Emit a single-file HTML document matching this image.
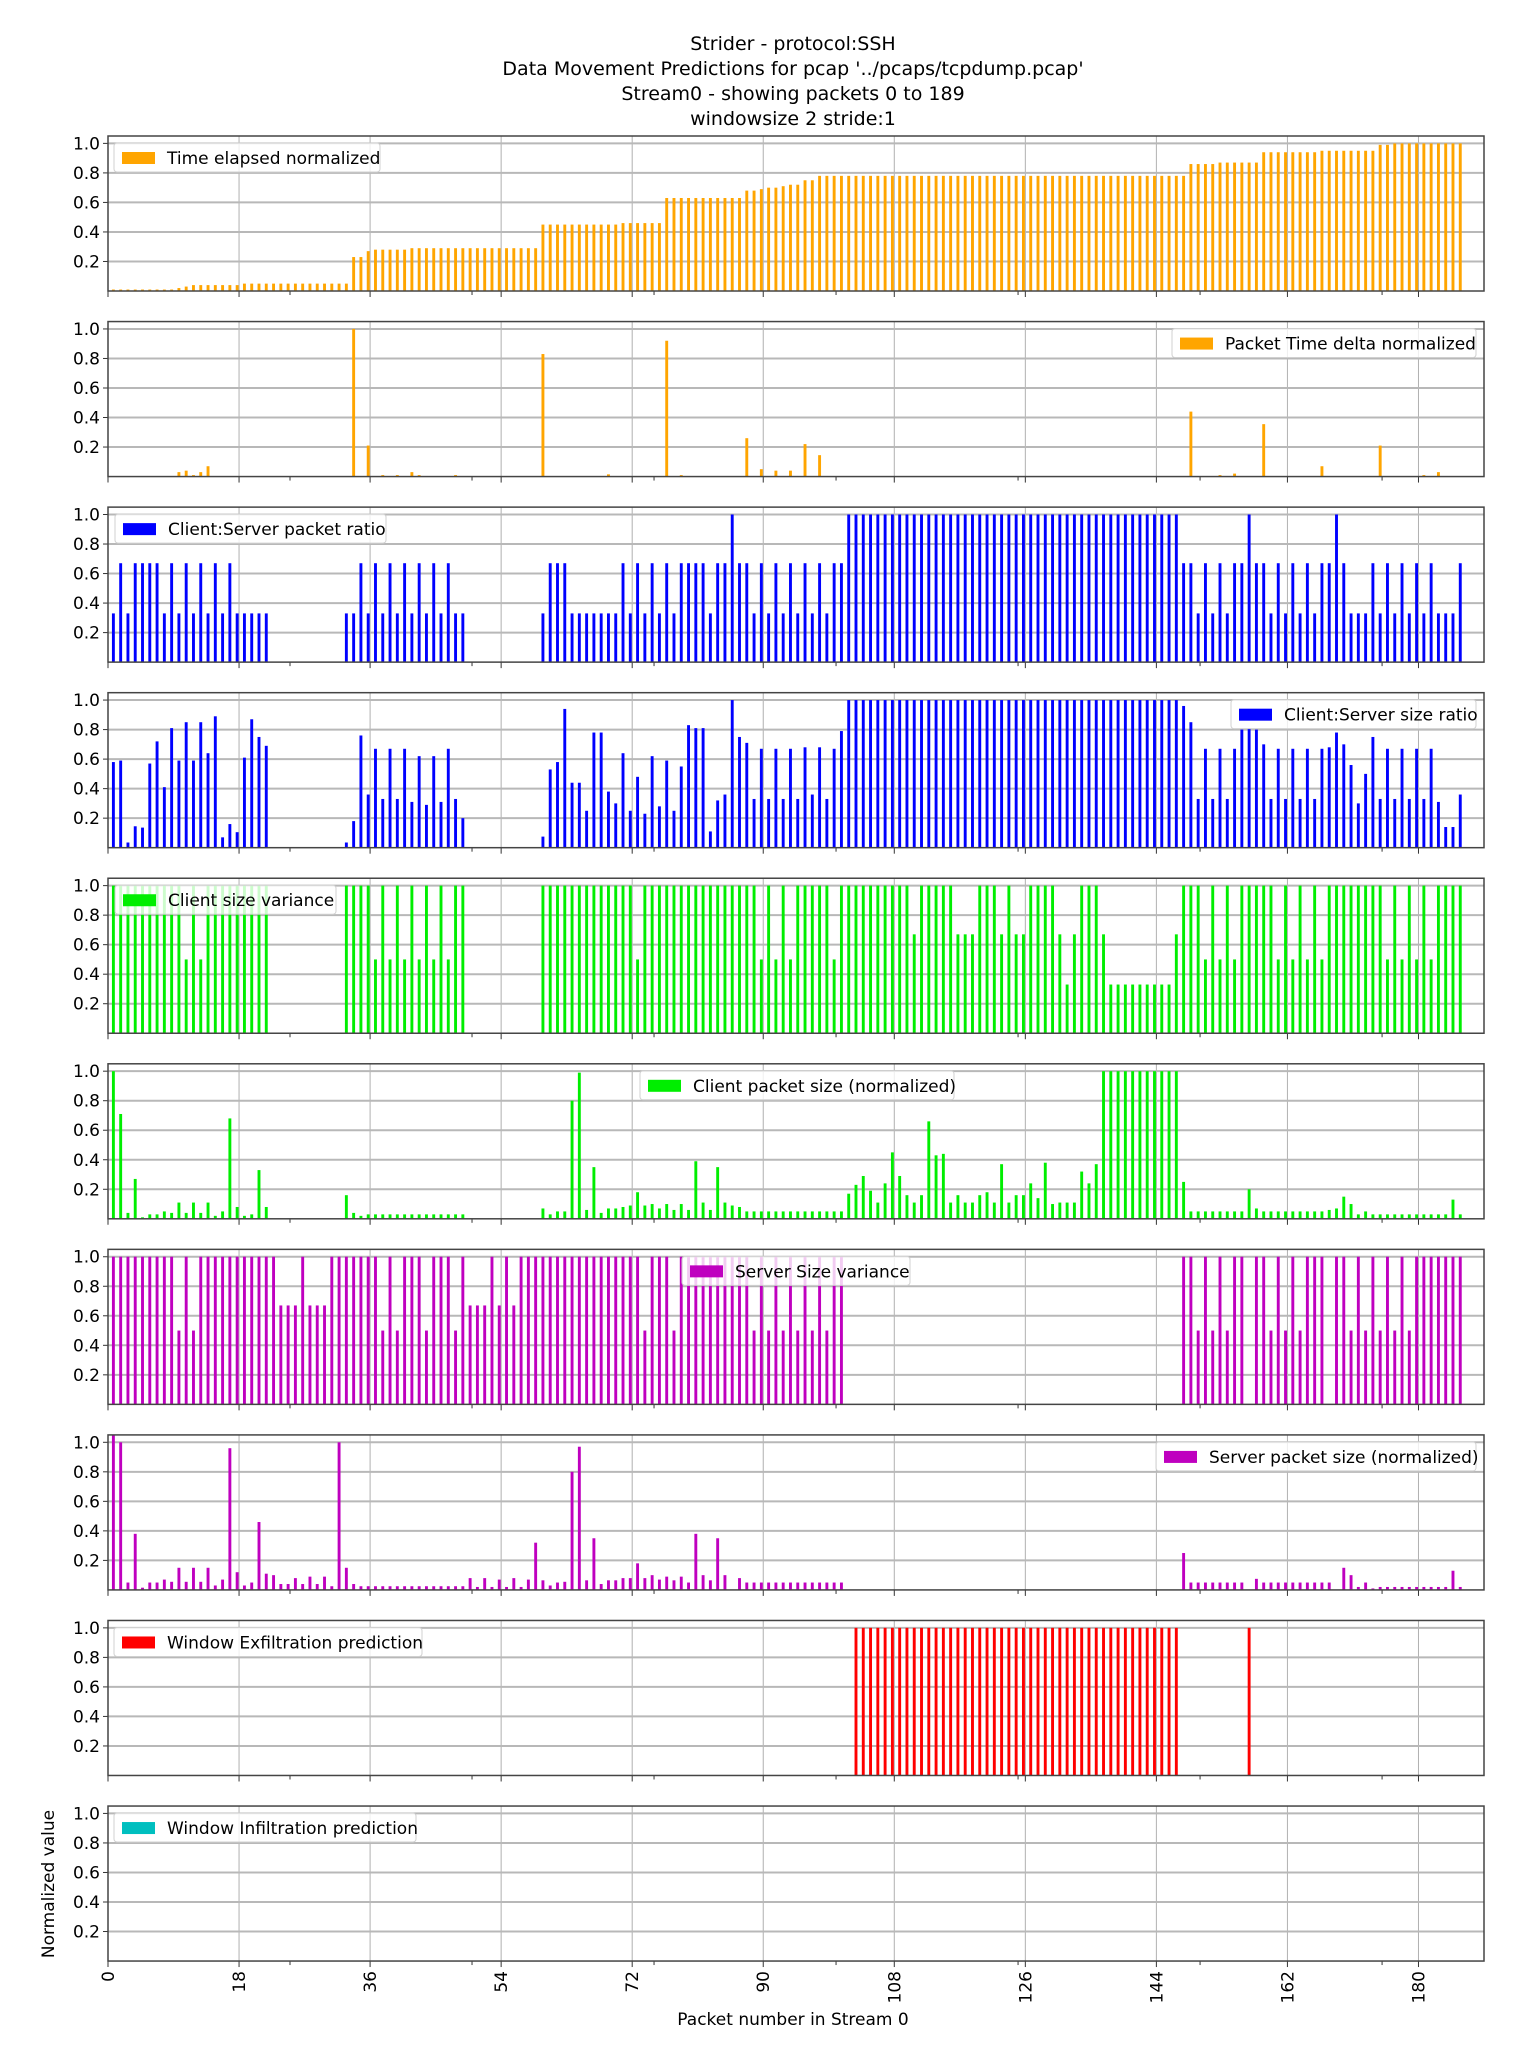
<!DOCTYPE html>
<html><head><meta charset="utf-8"><title>Strider - protocol:SSH</title>
<style>
html,body{margin:0;padding:0;background:#fff;}
svg{display:block;font-family:"DejaVu Sans","Liberation Sans",sans-serif;}
</style></head>
<body>
<svg id="chart" width="1523" height="2048" viewBox="0 0 1523 2048" xmlns="http://www.w3.org/2000/svg">
<rect x="0" y="0" width="1523" height="2048" fill="#fff"/>
<g font-size="19" text-anchor="middle" fill="#000">
<text x="793" y="50">Strider - protocol:SSH</text>
<text x="793" y="75">Data Movement Predictions for pcap '../pcaps/tcpdump.pcap'</text>
<text x="793" y="100">Stream0 - showing packets 0 to 189</text>
<text x="793" y="125">windowsize 2 stride:1</text>
</g>
<text x="793" y="2025" font-size="17" text-anchor="middle">Packet number in Stream 0</text>
<text transform="translate(54,1884) rotate(-90)" font-size="17" text-anchor="middle">Normalized value</text>
</svg>
<script>
const xTicks = [0,18,36,54,72,90,108,126,144,162,180];
const xMinorTicks = [25,50,75,100,125,150,175];
const yTicks = [0.2,0.4,0.6,0.8,1.0];
const yTickLabels = ["0.2","0.4","0.6","0.8","1.0"];

const timeElapsed = [.01,.01,.01,.01,.01,.01,.01,.01,.01,.02,
.03,.04,.04,.04,.04,.04,.04,.04,.05,.05,
.05,.05,.05,.05,.05,.05,.05,.05,.05,.05,
.05,.05,.05,.23,.23,.27,.28,.28,.28,.28,
.28,.29,.29,.29,.29,.29,.29,.29,.29,.29,
.29,.29,.29,.29,.29,.29,.29,.29,.29,.45,
.45,.45,.45,.45,.45,.45,.45,.45,.45,.45,
.46,.46,.46,.46,.46,.46,.63,.63,.63,.63,
.63,.63,.63,.63,.63,.63,.63,.68,.68,.69,
.70,.70,.71,.72,.72,.75,.75,.78,.78,.78,
.78,.78,.78,.78,.78,.78,.78,.78,.78,.78,
.78,.78,.78,.78,.78,.78,.78,.78,.78,.78,
.78,.78,.78,.78,.78,.78,.78,.78,.78,.78,
.78,.78,.78,.78,.78,.78,.78,.78,.78,.78,
.78,.78,.78,.78,.78,.78,.78,.78,.86,.86,
.86,.86,.87,.87,.87,.87,.87,.87,.94,.94,
.94,.94,.94,.94,.94,.94,.95,.95,.95,.95,
.95,.95,.95,.95,.99,.99,1,1,1,1,
1,1,1,1,1,1];

const timeDelta = [0,0,0,0,0,0,0,0,0,.03,
.04,.01,.03,.07,0,0,0,0,0,0,
0,0,0,0,0,0,0,0,0,0,
0,0,0,1.0,0,.21,0,.01,0,.01,
0,.03,.01,0,0,0,0,.01,0,0,
0,0,0,0,0,0,0,0,0,.83,
0,0,0,0,0,0,0,0,.015,0,
0,0,0,0,0,0,.92,0,.01,0,
0,0,0,0,0,0,0,.26,0,.05,
0,.04,0,.04,0,.22,0,.145,0,0,
0,0,0,0,0,0,0,0,0,0,
0,0,0,0,0,0,0,0,0,0,
0,0,0,0,0,0,0,0,0,0,
0,0,0,0,0,0,0,0,0,0,
0,0,0,0,0,0,0,0,.44,0,
0,0,.01,0,.02,0,0,0,.355,0,
0,0,0,0,0,0,.07,0,0,0,
0,0,0,0,.21,0,0,0,0,0,
.01,0,.03,0,0,0];

const packetRatio = [.33,.67,.33,.67,.67,.67,.67,.33,.67,.33,
.67,.33,.67,.33,.67,.33,.67,.33,.33,.33,
.33,.33,0,0,0,0,0,0,0,0,
0,0,.33,.33,.67,.33,.67,.33,.67,.33,
.67,.33,.67,.33,.67,.33,.67,.33,.33,0,
0,0,0,0,0,0,0,0,0,.33,
.67,.67,.67,.33,.33,.33,.33,.33,.33,.33,
.67,.33,.67,.33,.67,.33,.67,.33,.67,.67,
.67,.67,.33,.67,.67,1,.67,.67,.33,.67,
.33,.67,.33,.67,.33,.67,.33,.67,.33,.67,
.67,1,1,1,1,1,1,1,1,1,
1,1,1,1,1,1,1,1,1,1,
1,1,1,1,1,1,1,1,1,1,
1,1,1,1,1,1,1,1,1,1,
1,1,1,1,1,1,1,.67,.67,.33,
.67,.33,.67,.33,.67,.67,1,.67,.67,.33,
.67,.33,.67,.33,.67,.33,.67,.67,1,.67,
.33,.33,.33,.67,.33,.67,.33,.67,.33,.67,
.33,.67,.33,.33,.33,.67];

const sizeRatio = [.58,.59,.035,.145,.136,.57,.72,.41,.81,.59,
.85,.59,.85,.64,.89,.07,.16,.105,.61,.87,
.75,.69,0,0,0,0,0,0,0,0,
0,0,.035,.18,.76,.36,.67,.33,.67,.33,
.67,.31,.62,.29,.62,.31,.67,.33,.2,0,
0,0,0,0,0,0,0,0,0,.075,
.53,.58,.94,.44,.44,.25,.78,.78,.38,.30,
.64,.25,.48,.23,.62,.28,.59,.25,.55,.83,
.81,.81,.11,.32,.36,1.0,.75,.71,.33,.67,
.33,.67,.33,.67,.33,.68,.36,.68,.33,.67,
.79,1,1,1,1,1,1,1,1,1,
1,1,1,1,1,1,1,1,1,1,
1,1,1,1,1,1,1,1,1,1,
1,1,1,1,1,1,1,1,1,1,
1,1,1,1,1,1,1,.96,.85,.33,
.67,.33,.67,.33,.67,.8,.81,.8,.7,.33,
.67,.33,.67,.33,.67,.33,.67,.68,.78,.7,
.56,.3,.5,.75,.33,.67,.33,.67,.33,.67,
.33,.67,.31,.14,.14,.36];

const clientVariance = [1,1,1,1,1,1,1,1,1,1,
.5,1,.5,1,1,1,1,1,1,1,
1,1,0,0,0,0,0,0,0,0,
0,0,1,1,1,1,.5,1,.5,1,
.5,1,.5,1,.5,1,.5,1,1,0,
0,0,0,0,0,0,0,0,0,1,
1,1,1,1,1,1,1,1,1,1,
1,1,.5,1,1,1,1,1,1,1,
1,1,1,1,1,1,1,1,1,.5,
1,.5,1,.5,1,1,1,1,1,.5,
1,1,1,1,1,1,1,1,1,1,
.67,1,1,1,1,1,.67,.67,.67,1,
1,1,.67,1,.67,.67,1,1,1,1,
.67,.33,.67,1,1,1,.67,.33,.33,.33,
.33,.33,.33,.33,.33,.33,.67,1,1,1,
.5,1,.5,1,.5,1,1,1,1,1,
.5,1,.5,1,.5,1,.5,1,1,1,
1,1,1,1,1,.5,1,.5,1,.5,
1,.5,1,1,1,1];

const clientSize = [1.0,.71,.04,.27,.01,.03,.03,.05,.04,.11,
.04,.11,.04,.11,.02,.05,.68,.08,.02,.03,
.33,.08,0,0,0,0,0,0,0,0,
0,0,.16,.04,.02,.03,.03,.03,.03,.03,
.03,.03,.03,.03,.03,.03,.03,.03,.03,0,
0,0,0,0,0,0,0,0,0,.07,
.03,.05,.05,.8,.99,.06,.35,.04,.07,.07,
.08,.09,.18,.09,.1,.07,.1,.06,.1,.06,
.39,.11,.06,.35,.11,.09,.08,.05,.05,.05,
.05,.05,.05,.05,.05,.05,.05,.05,.05,.05,
.05,.17,.23,.29,.19,.11,.24,.45,.29,.16,
.11,.16,.66,.43,.44,.11,.16,.11,.11,.16,
.18,.11,.37,.11,.16,.16,.24,.14,.38,.10,
.11,.11,.11,.32,.24,.37,1,1,1,1,
1,1,1,1,1,1,1,.25,.05,.05,
.05,.05,.05,.05,.05,.05,.2,.07,.05,.05,
.05,.05,.05,.05,.05,.05,.05,.06,.07,.15,
.1,.03,.05,.03,.03,.03,.03,.03,.03,.03,
.03,.03,.03,.03,.13,.03];

const serverVariance = [1,1,1,1,1,1,1,1,1,.5,
1,.5,1,1,1,1,1,1,1,1,
1,1,1,.67,.67,.67,1,.67,.67,.67,
1,1,1,1,1,1,1,.5,1,.5,
1,1,1,.5,1,1,1,.5,1,.67,
.67,.67,1,.67,1,.67,1,1,1,1,
1,1,1,1,1,1,1,1,1,1,
1,1,1,.5,1,1,1,.5,1,1,
1,1,1,1,1,1,1,1,.5,1,
.5,1,.5,1,.5,1,.5,1,.5,1,
1,0,0,0,0,0,0,0,0,0,
0,0,0,0,0,0,0,0,0,0,
0,0,0,0,0,0,0,0,0,0,
0,0,0,0,0,0,0,0,0,0,
0,0,0,0,0,0,0,1,1,.5,
1,.5,1,.5,1,1,0,1,1,.5,
1,.5,1,.5,1,1,1,0,1,1,
.5,1,.5,1,.5,1,.5,1,.5,1,
1,1,1,1,1,1];

const serverSize = [1.05,1.0,.05,.38,.015,.05,.05,.07,.055,.15,
.055,.15,.055,.15,.03,.07,.96,.12,.03,.05,
.46,.11,.10,.04,.04,.08,.04,.09,.04,.09,
.025,1.0,.15,.04,.025,.025,.025,.025,.025,.025,
.025,.025,.025,.025,.025,.025,.025,.025,.025,.08,
.02,.08,.02,.07,.02,.08,.02,.07,.32,.065,
.03,.05,.055,.8,.97,.065,.35,.04,.065,.065,
.08,.08,.18,.08,.1,.07,.09,.065,.09,.05,
.38,.1,.065,.35,.1,0,.08,.05,.05,.05,
.05,.05,.05,.05,.05,.05,.05,.05,.05,.05,
.05,0,0,0,0,0,0,0,0,0,
0,0,0,0,0,0,0,0,0,0,
0,0,0,0,0,0,0,0,0,0,
0,0,0,0,0,0,0,0,0,0,
0,0,0,0,0,0,0,.25,.05,.05,
.05,.05,.05,.05,.05,.05,0,.075,.05,.05,
.05,.05,.05,.05,.05,.05,.05,.05,0,.15,
.1,.02,.05,.01,.02,.02,.02,.02,.02,.02,
.02,.02,.02,.02,.13,.02];

const exfil = [0,0,0,0,0,0,0,0,0,0,
0,0,0,0,0,0,0,0,0,0,
0,0,0,0,0,0,0,0,0,0,
0,0,0,0,0,0,0,0,0,0,
0,0,0,0,0,0,0,0,0,0,
0,0,0,0,0,0,0,0,0,0,
0,0,0,0,0,0,0,0,0,0,
0,0,0,0,0,0,0,0,0,0,
0,0,0,0,0,0,0,0,0,0,
0,0,0,0,0,0,0,0,0,0,
0,0,1,1,1,1,1,1,1,1,
1,1,1,1,1,1,1,1,1,1,
1,1,1,1,1,1,1,1,1,1,
1,1,1,1,1,1,1,1,1,1,
1,1,1,1,1,1,1,0,0,0,
0,0,0,0,0,0,1,0,0,0,
0,0,0,0,0,0,0,0,0,0,
0,0,0,0,0,0,0,0,0,0,
0,0,0,0,0,0];

const infil = [];

const seriesNames = ["Time elapsed normalized","Packet Time delta normalized","Client:Server packet ratio","Client:Server size ratio","Client size variance","Client packet size (normalized)","Server Size variance","Server packet size (normalized)","Window Exfiltration prediction","Window Infiltration prediction"];

const NS = "http://www.w3.org/2000/svg";
const svg = document.getElementById('chart');
const PL = 108, PR = 1484, PTOP = 136, PPITCH = 185.56, PH = 155;
const XMAX = 189, YMAX = 1.05;
function xScale(v){ return PL + (v + 0.74) * (PR - PL) / XMAX; }
function xTickPos(v){ return PL + v * (PR - PL) / XMAX; }
function mk(tag, attrs, parent){
  const e = document.createElementNS(NS, tag);
  for (const k in attrs) e.setAttribute(k, attrs[k]);
  (parent || svg).appendChild(e);
  return e;
}

const panels = [
  {data: timeElapsed, color: "#ffa500", slug: "time-elapsed", leg: {x:114, w:266, anchor:"left"}},
  {data: timeDelta, color: "#ffa500", slug: "time-delta", leg: {x:1172, w:304}},
  {data: packetRatio, color: "#0000ff", slug: "packet-ratio", leg: {x:115, w:271}},
  {data: sizeRatio, color: "#0000ff", slug: "size-ratio", leg: {x:1231, w:245}},
  {data: clientVariance, color: "#00ee00", slug: "client-variance", leg: {x:115, w:221}},
  {data: clientSize, color: "#00ee00", slug: "client-size", leg: {x:640, w:314}},
  {data: serverVariance, color: "#bf00bf", slug: "server-variance", leg: {x:682, w:228}},
  {data: serverSize, color: "#bf00bf", slug: "server-size", leg: {x:1156, w:320}},
  {data: exfil, color: "#ff0000", slug: "exfiltration", leg: {x:114, w:308}},
  {data: infil, color: "#00bfbf", slug: "infiltration", leg: {x:114, w:302}}
];

panels.forEach((p, k) => {
  const top = PTOP + k * PPITCH;
  const bottom = top + PH;
  const yScale = v => bottom - v * PH / YMAX;
  const g = mk('g', {});
  
  
  // vertical grid
  xTicks.forEach(t => {
    const l = mk('line', {x1: xTickPos(t), x2: xTickPos(t), y1: top, y2: bottom, stroke: "#b0b0b0", "stroke-width": 1}, g);
    
    
  });
  // horizontal grid + y ticks
  yTicks.forEach((t, j) => {
    const y = yScale(t);
    const l = mk('line', {x1: PL, x2: PR, y1: y, y2: y, stroke: "#b8b8b8", "stroke-width": 2}, g);
    
    
    const tk = mk('line', {x1: PL - 5, x2: PL, y1: y, y2: y, stroke: "#333", "stroke-width": 1}, g);
    
    
    const tx = mk('text', {x: PL - 8, y: y + 6, "font-size": 17, "text-anchor": "end", fill: "#000"}, g);
    tx.textContent = yTickLabels[j];
    
    
  });
  // bars
  p.data.forEach((v, i) => {
    if (!v) return;
    const y = Math.max(yScale(v), top);
    const b = mk('rect', {x: xScale(i) - 1.45, y: y, width: 2.9, height: bottom - y, fill: p.color}, g);
    
    
  });
  // x ticks
  xTicks.forEach(t => {
    const tk = mk('line', {x1: xTickPos(t), x2: xTickPos(t), y1: bottom, y2: bottom + 6, stroke: "#333", "stroke-width": 1}, g);
    
    
  });
  xMinorTicks.forEach(t => {
    const tk = mk('line', {x1: xTickPos(t), x2: xTickPos(t), y1: bottom, y2: bottom + 4, stroke: "#333", "stroke-width": 1}, g);
    
    
  });
  // frame
  const fr = mk('rect', {x: PL, y: top, width: PR - PL, height: PH, fill: "none", stroke: "#444", "stroke-width": 1.5}, g);
  
  
  // legend
  const ly = top + 7;
  const lg = mk('g', {}, g);
  
  
  mk('rect', {x: p.leg.x, y: ly, width: p.leg.w, height: 29, rx: 3, fill: "rgba(255,255,255,0.8)", stroke: "#d0d0d0", "stroke-width": 1}, lg);
  const sw = mk('rect', {x: p.leg.x + 8, y: ly + 9, width: 33, height: 12, fill: p.color}, lg);
  
  
  const lt = mk('text', {x: p.leg.x + 53, y: ly + 21, "font-size": 17, fill: "#000"}, lg);
  lt.textContent = seriesNames[k];
  
  
});

// x tick labels on last panel
const lastBottom = PTOP + 9 * PPITCH + PH;
xTicks.forEach(t => {
  const x = xTickPos(t);
  const tx = mk('text', {x: 0, y: 0, "font-size": 17, "text-anchor": "end", transform: "translate(" + (x + 6) + "," + (lastBottom + 10) + ") rotate(-90)"});
  tx.textContent = String(t);
  
  
});
</script>
</body></html>
